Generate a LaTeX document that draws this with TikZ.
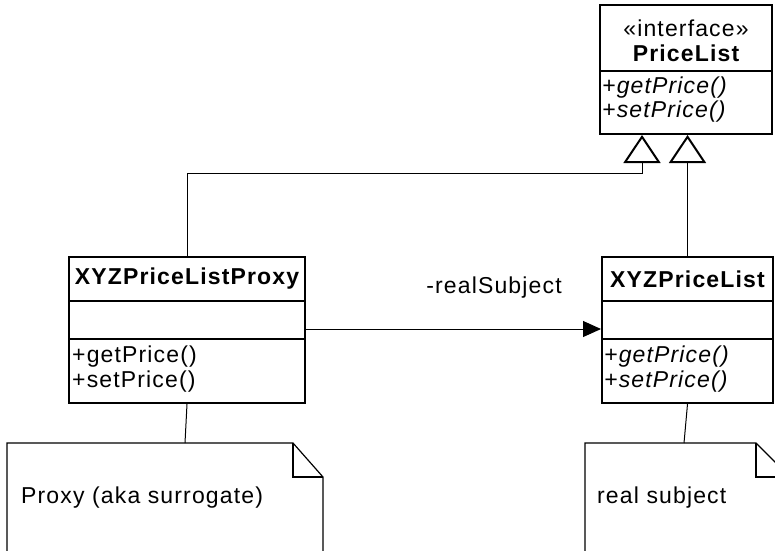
\documentclass[tikz,border=0pt]{standalone}
\usepackage{fontspec}
\setmainfont{Liberation Sans}
\newfontfamily\umlfont[LetterSpace=5]{Liberation Sans}
\usetikzlibrary{arrows.meta}
\begin{document}
\begin{tikzpicture}[x=1pt,y=-1pt,
  box/.style={draw, line width=2pt, inner sep=0pt, fill=white},
  sep/.style={line width=2pt},
  txt/.style={font=\umlfont\fontsize{23}{28}\selectfont, inner sep=0pt},
  btxt/.style={font=\umlfont\fontsize{23}{28}\selectfont\bfseries, inner sep=0pt},
  itxt/.style={font=\umlfont\fontsize{23}{28}\selectfont\itshape, inner sep=0pt, anchor=west},
  gen/.style={line width=1pt, -{Triangle[open, length=28pt, width=37pt, line width=2pt]}},
  assoc/.style={line width=1pt, -{Triangle[length=18pt, width=16pt]}},
  notel/.style={line width=1.2pt},
  link/.style={line width=1pt}]
\useasboundingbox (0,0) rectangle (775,550);
\clip (0,0) rectangle (775,550);
% boxes
\node[box, minimum width=172pt, minimum height=129pt] (pl) at (686,69.5) {};
\node[box, minimum width=236pt, minimum height=146pt] (proxy) at (187,330) {};
\node[box, minimum width=171pt, minimum height=146pt] (xyz) at (687.5,330) {};
% separators
\coordinate (s0) at (0,71);
\coordinate (s1) at (0,301);
\coordinate (s2) at (0,339);
\draw[sep] (pl.west |- s0) -- (pl.east |- s0);
\draw[sep] (proxy.west |- s1) -- (proxy.east |- s1);
\draw[sep] (proxy.west |- s2) -- (proxy.east |- s2);
\draw[sep] (xyz.west |- s1) -- (xyz.east |- s1);
\draw[sep] (xyz.west |- s2) -- (xyz.east |- s2);
% texts
\node[txt] (plst) at (686,28) {«interface»};
\node[btxt] (pln) at (686,53) {PriceList};
\node[itxt] (plm1) at (602,88) {+getPrice()};
\node[itxt] (plm2) at (602,112) {+setPrice()};
\node[btxt] (prn) at (187,279) {XYZPriceListProxy};
\node[txt, anchor=west] (prm1) at (72,357) {+getPrice()};
\node[txt, anchor=west] (prm2) at (72,382) {+setPrice()};
\node[btxt] (xyn) at (687.5,279) {XYZPriceList};
\node[itxt] (xym1) at (604,357) {+getPrice()};
\node[itxt] (xym2) at (604,382) {+setPrice()};
% generalizations
\coordinate (t1) at (642,173);
\draw[gen] (proxy.north) |- (t1) -- (t1 |- pl.south);
\draw[gen] (xyz.north) -- (xyz.north |- pl.south);
% association
\coordinate (ay) at (0,329);
\draw[assoc] (proxy.east |- ay) -- (xyz.west |- ay);
\node[txt] (rs) at (494,288) {-realSubject};
% notes
\draw[notel] (7,560) -- (7,443) -- (293,443) -- (323,477) -- (323,560);
\draw[notel] (293,443) -- (293,477) -- (323,477);
\draw[notel] (585,560) -- (585,443) -- (756,443) -- (790,477) -- (790,560);
\draw[notel] (756,443) -- (756,477) -- (790,477);
\coordinate (n1) at (185,443);
\coordinate (n2) at (684,443);
\draw[link] (n1) -- (proxy.south);
\draw[link] (n2) -- (xyz.south);
\node[txt, anchor=west] (n1t) at (21,498) {Proxy (aka surrogate)};
\node[txt, anchor=west] (n2t) at (597,498) {real subject};
\end{tikzpicture}
\end{document}
